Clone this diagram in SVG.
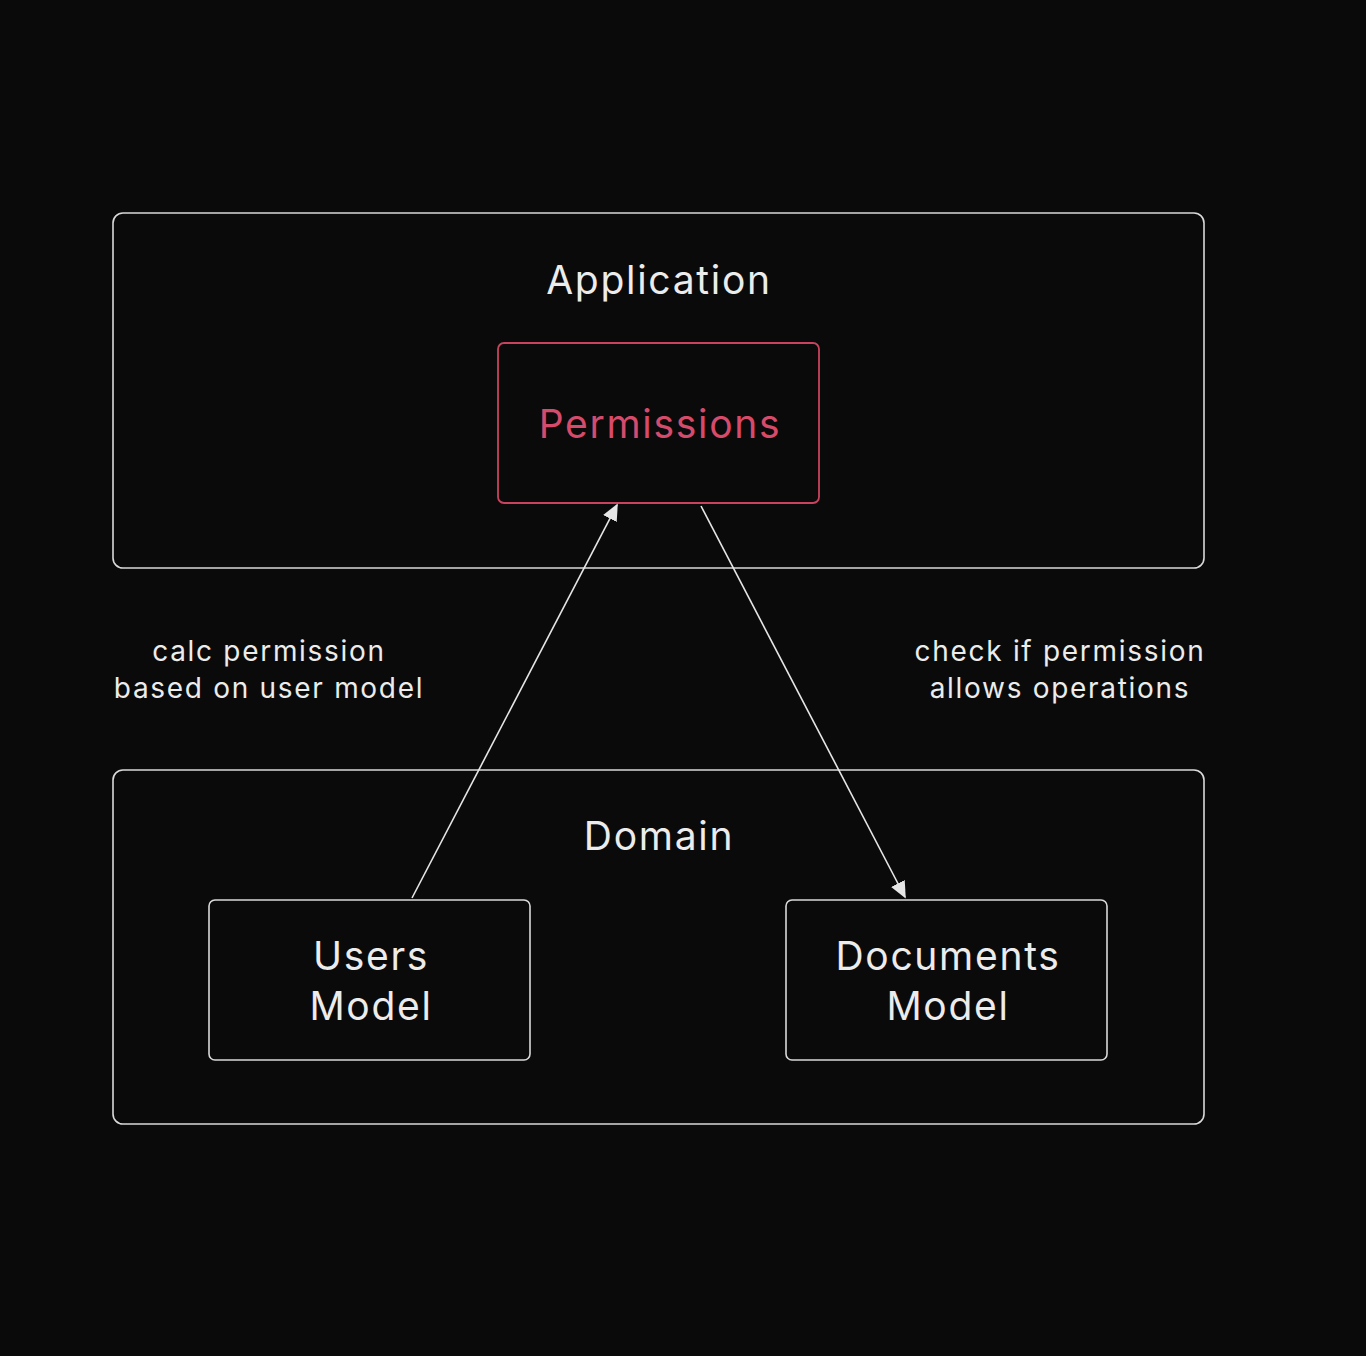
<svg xmlns="http://www.w3.org/2000/svg" width="1366" height="1356" viewBox="0 0 1366 1356">
<defs>
<style>
.box{fill:none;stroke:#d9d9d9;stroke-width:1.6}
.perm{fill:none;stroke:#c8435e;stroke-width:1.8}
.t{font-family:Inter,"Open Sans","Liberation Sans",sans-serif;fill:#ececec;text-anchor:middle}
.big{font-size:39px;letter-spacing:1.7px}
.small{font-size:28px;letter-spacing:1.7px}
.edge{stroke:#e6e6e6;stroke-width:1.6;fill:none}
</style>
<marker id="ah" viewBox="0 0 10 10" refX="9" refY="5" markerWidth="17" markerHeight="17" markerUnits="userSpaceOnUse" orient="auto">
<path d="M0,0.5 L10,5 L0,9.5 z" fill="#e6e6e6"/>
</marker>
</defs>
<rect width="1366" height="1356" fill="#0a0a0a"/>
<g id="application">
<rect class="box" x="113" y="213" width="1091" height="355" rx="10"/>
<text class="t big" x="659" y="294">Application</text>
</g>
<g id="permissions">
<rect class="perm" x="498" y="343" width="321" height="160" rx="6"/>
<text class="t big" x="660" y="438" style="fill:#d64b6b">Permissions</text>
</g>
<g id="domain">
<rect class="box" x="113" y="770" width="1091" height="354" rx="10"/>
<text class="t big" x="659" y="850">Domain</text>
</g>
<g id="users-model">
<rect class="box" x="209" y="900" width="321" height="160" rx="6"/>
<text class="t big" x="371" y="970">Users</text>
<text class="t big" x="371" y="1020">Model</text>
</g>
<g id="documents-model">
<rect class="box" x="786" y="900" width="321" height="160" rx="6"/>
<text class="t big" x="948" y="970">Documents</text>
<text class="t big" x="948" y="1020">Model</text>
</g>
<g id="connectors">
<line class="edge" x1="412" y1="898" x2="617" y2="505" marker-end="url(#ah)"/>
<line class="edge" x1="701" y1="506" x2="905" y2="897" marker-end="url(#ah)"/>
<text class="t small" x="269" y="661">calc permission</text>
<text class="t small" x="269" y="698">based on user model</text>
<text class="t small" x="1060" y="661">check if permission</text>
<text class="t small" x="1060" y="698">allows operations</text>
</g>
</svg>
